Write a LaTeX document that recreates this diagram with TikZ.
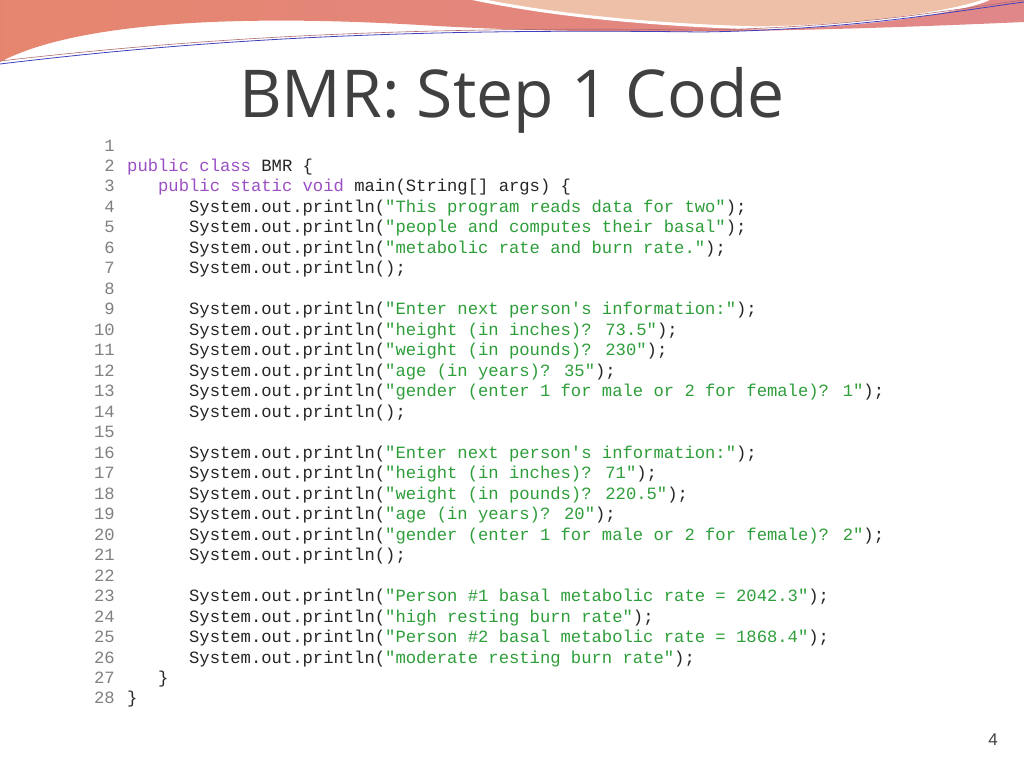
\documentclass[tikz,border=0pt]{standalone}
\usepackage{fontspec}
\setmainfont{Liberation Sans}
\newfontfamily\codefont{Liberation Mono}
\newfontfamily\titlefont{Open Sans}
\definecolor{kwc}{HTML}{9B4FC4}
\definecolor{stc}{HTML}{2E9E3A}
\definecolor{numc}{HTML}{808080}
\definecolor{salmon}{HTML}{E0878A}
\definecolor{peach}{HTML}{EFC0A8}
\newcommand{\kw}[1]{\textcolor{kwc}{#1}}
\newcommand{\st}[1]{\textcolor{stc}{#1}}
\begin{document}
\begin{tikzpicture}[x=1pt,y=-1pt,
  codeline/.style={anchor=base west,inner sep=0pt,text=black!85,font=\codefont\fontsize{17.2}{20}\selectfont},
  lnum/.style={anchor=base east,inner sep=0pt,text=numc,font=\codefont\fontsize{17.2}{20}\selectfont}]
\useasboundingbox[fill=white] (0,0) rectangle (1024,768);
% decoration
\shade[left color=salmon!80!orange, right color=salmon] (0,0) -- (1024,0) -- (1024,22) .. controls (800,32) and (600,36) .. (420,25) .. controls (250,15) and (80,20) .. (0,62) -- cycle;
\fill[peach, draw=white, line width=3pt] (470,-2) .. controls (550,15) and (650,25) .. (760,28) .. controls (900,25) and (980,5) .. (990,-2) -- cycle;
\draw[blue!50!gray, line width=0.8pt] (0,64) .. controls (200,40) and (400,28) .. (700,32) .. controls (850,30) and (950,12) .. (1024,2);
\draw[salmon!80!black, line width=0.6pt] (0,61) .. controls (200,38) and (400,26) .. (700,30) .. controls (850,28) and (950,10) .. (1024,0);
% title
\node[text=black!75, font=\titlefont\fontsize{66}{72}\selectfont, anchor=base] (title) at (512,117) {BMR: Step 1 Code};
% code
\def\cw{10.32}
\foreach \i/\ind/\txt in {
 1/0/{},
 2/0/{\kw{public} \kw{class} BMR \{},
 3/3/{\kw{public} \kw{static} \kw{void} main(String[] args) \{},
 4/6/{System.out.println(\st{"This program reads data for two"});},
 5/6/{System.out.println(\st{"people and computes their basal"});},
 6/6/{System.out.println(\st{"metabolic rate and burn rate."});},
 7/6/{System.out.println();},
 8/0/{},
 9/6/{System.out.println(\st{"Enter next person's information:"});},
 10/6/{System.out.println(\st{"height (in inches)? 73.5"});},
 11/6/{System.out.println(\st{"weight (in pounds)? 230"});},
 12/6/{System.out.println(\st{"age (in years)? 35"});},
 13/6/{System.out.println(\st{"gender (enter 1 for male or 2 for female)? 1"});},
 14/6/{System.out.println();},
 15/0/{},
 16/6/{System.out.println(\st{"Enter next person's information:"});},
 17/6/{System.out.println(\st{"height (in inches)? 71"});},
 18/6/{System.out.println(\st{"weight (in pounds)? 220.5"});},
 19/6/{System.out.println(\st{"age (in years)? 20"});},
 20/6/{System.out.println(\st{"gender (enter 1 for male or 2 for female)? 2"});},
 21/6/{System.out.println();},
 22/0/{},
 23/6/{System.out.println(\st{"Person \#1 basal metabolic rate = 2042.3"});},
 24/6/{System.out.println(\st{"high resting burn rate"});},
 25/6/{System.out.println(\st{"Person \#2 basal metabolic rate = 1868.4"});},
 26/6/{System.out.println(\st{"moderate resting burn rate"});},
 27/3/{\}},
 28/0/{\}}}{
  \node[lnum] (n\i) at (115,{151+(\i-1)*20.48}) {\i};
  \node[codeline] (c\i) at ({127+\ind*\cw},{151+(\i-1)*20.48}) {\txt};
}
\node[text=black!75, font=\fontsize{17}{20}\selectfont] (page) at (993,740) {4};
\end{tikzpicture}
\end{document}
